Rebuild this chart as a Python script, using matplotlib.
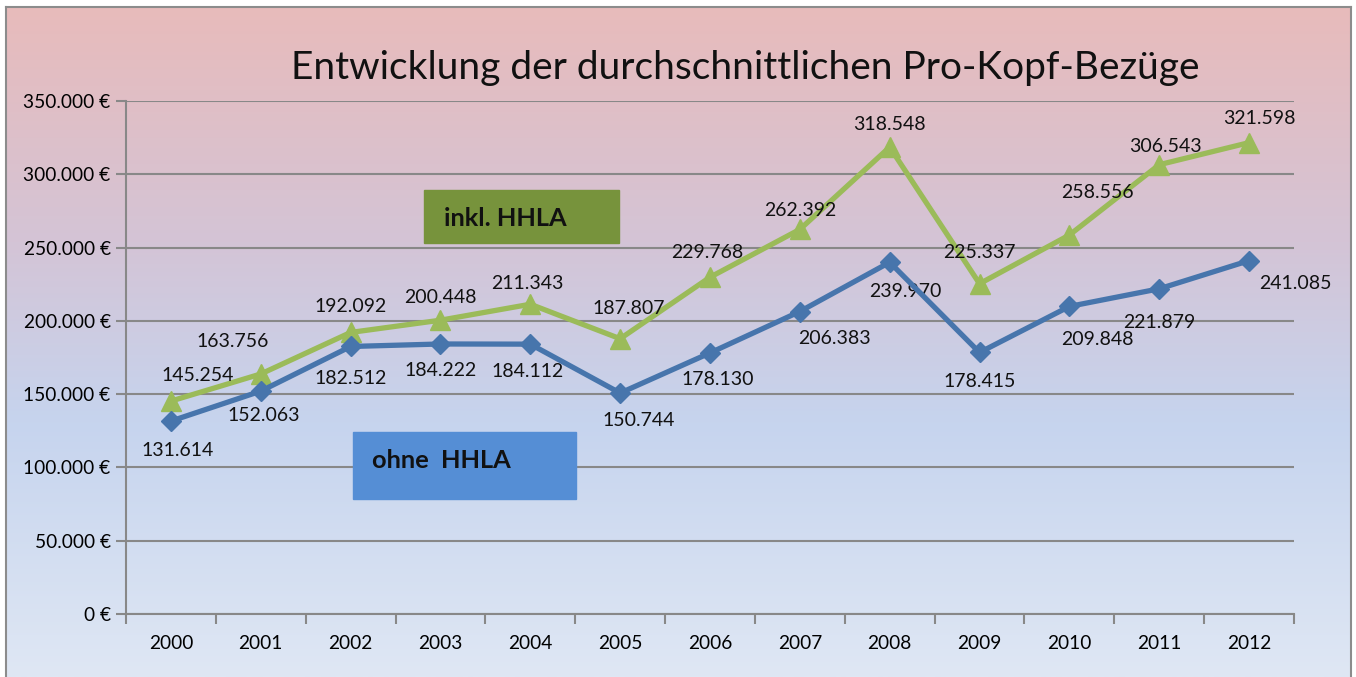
import numpy as np
import matplotlib
matplotlib.use('Agg')
import matplotlib.pyplot as plt
from matplotlib.colors import LinearSegmentedColormap
from matplotlib.ticker import FuncFormatter, FixedLocator

plt.rcParams['font.family'] = ['Lato', 'DejaVu Sans']

years = ['2000', '2001', '2002', '2003', '2004', '2005', '2006',
         '2007', '2008', '2009', '2010', '2011', '2012']
ohne_hhla = [131614, 152063, 182512, 184222, 184112, 150744, 178130,
             206383, 239970, 178415, 209848, 221879, 241085]
inkl_hhla = [145254, 163756, 192092, 200448, 211343, 187807, 229768,
             262392, 318548, 225337, 258556, 306543, 321598]

# label offsets in pixels (dx, dy)
off_ohne = [(7, -29), (3, -24), (0, -32), (0, -27), (-3, -27), (19, -27), (8, -27),
            (35, -27), (16, -29), (0, -29), (28, -33), (0, -34), (46, -23)]
off_inkl = [(27, 26), (-28, 32), (0, 26), (0, 23), (-3, 21), (9, 30), (-3, 25),
            (0, 19), (0, 23), (0, 31), (28, 43), (6, 18), (10, 24)]

W, H = 1356, 677
fig = plt.figure(figsize=(W / 100, H / 100), dpi=100)
fig.patch.set_facecolor('white')

# background gradient
bg = fig.add_axes([6 / W, 0, (1351 - 6) / W, (H - 7) / H])
cmap = LinearSegmentedColormap.from_list(
    'bg', [(0, '#E8BBBB'), (0.35, '#D4C4D6'), (0.62, '#C6D4EE'), (1, '#DFE7F4')])
grad = np.linspace(0, 1, 256).reshape(-1, 1)
bg.imshow(grad, aspect='auto', cmap=cmap, extent=[0, 1, 0, 1], origin='upper')
bg.set_xticks([])
bg.set_yticks([])
for s in bg.spines.values():
    s.set_color('#8C8C8C')
    s.set_linewidth(1.5)
bg.spines['bottom'].set_visible(False)

ax = fig.add_axes([126 / W, (H - 614) / H, (1294 - 126) / W, (614 - 101) / H])
ax.patch.set_alpha(0)
x = np.arange(len(years))

ax.plot(x, inkl_hhla, color='#9BBB59', lw=3.8, marker='^', ms=14, zorder=3)
ax.plot(x, ohne_hhla, color='#4775AC', lw=3.8, marker='D', ms=10.5, zorder=4)

fmt = lambda v: f'{v:,}'.replace(',', '.')
for i in range(len(years)):
    ax.annotate(fmt(ohne_hhla[i]), (x[i], ohne_hhla[i]), xytext=off_ohne[i],
                textcoords='offset pixels', ha='center', va='center', fontsize=14, color='#111111')
    ax.annotate(fmt(inkl_hhla[i]), (x[i], inkl_hhla[i]), xytext=off_inkl[i],
                textcoords='offset pixels', ha='center', va='center', fontsize=14, color='#111111')

ax.set_xlim(-0.5, len(years) - 0.5)
ax.set_ylim(0, 350000)
ax.set_yticks(np.arange(0, 350001, 50000))
ax.yaxis.set_major_formatter(FuncFormatter(lambda v, p: fmt(int(v)) + ' €'))
ax.grid(axis='y', color='#888888', lw=1.5)
ax.set_axisbelow(True)

ax.set_xticks(x)
ax.set_xticklabels(years)
ax.xaxis.set_minor_locator(FixedLocator(np.arange(-0.5, len(years), 1)))
ax.tick_params(axis='x', which='major', length=0, pad=15, labelsize=13.8)
ax.tick_params(axis='x', which='minor', length=7, width=1.5, color='#888888')
ax.tick_params(axis='y', length=7, width=1.5, color='#888888', labelsize=13.8, pad=4)

for s in ['top', 'right']:
    ax.spines[s].set_visible(False)
for s in ['left', 'bottom']:
    ax.spines[s].set_color('#888888')
    ax.spines[s].set_linewidth(1.5)

fig.text(745 / W, 1 - 68 / H, 'Entwicklung der durchschnittlichen Pro-Kopf-Bezüge',
         ha='center', va='center', fontsize=28, color='#111111')

# legend-like boxes
fig.patches.append(plt.Rectangle((424 / W, 1 - 243 / H), 195 / W, 53 / H,
                                 transform=fig.transFigure, color='#77933C', zorder=5))
fig.text(444 / W, 1 - 219 / H, 'inkl. HHLA', ha='left', va='center',
         fontsize=18.3, fontweight='bold', color='#111111', zorder=6)
fig.patches.append(plt.Rectangle((353 / W, 1 - 499 / H), 223 / W, 67 / H,
                                 transform=fig.transFigure, color='#558ED5', zorder=5))
fig.text(372 / W, 1 - 461 / H, 'ohne  HHLA', ha='left', va='center',
         fontsize=18.3, fontweight='bold', color='#111111', zorder=6)

fig.savefig('out.png', dpi=100)
